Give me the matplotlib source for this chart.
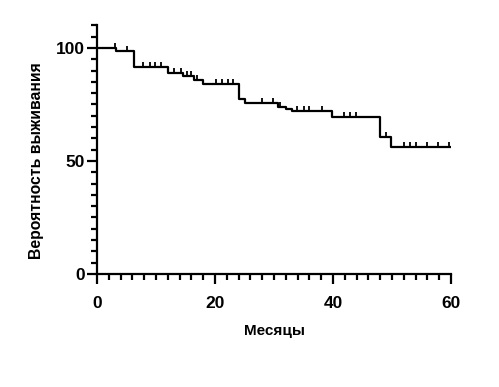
import numpy as np
import matplotlib
matplotlib.use('Agg')
import matplotlib.pyplot as plt
from matplotlib.ticker import MultipleLocator

# Kaplan-Meier steps (months, % survival)
step_times = [0, 3.2, 6.2, 12.0, 14.5, 16.5, 18.0, 24.0, 25.0, 30.7, 32.0, 33.0, 39.8, 48.0, 49.8, 59.8]
step_surv  = [100, 98.8, 91.7, 89.0, 87.5, 86.0, 84.0, 77.5, 75.5, 74.0, 73.0, 72.0, 69.5, 60.5, 56.0, 56.0]

# censored observations (months)
censor_times = [3.0, 5.1, 7.8, 8.9, 9.8, 10.8, 13.1, 14.2, 15.2, 16.0, 16.9,
                20.2, 21.2, 22.2, 23.1, 27.9, 29.9, 31.0, 33.9, 35.0, 36.0, 38.1,
                41.9, 42.9, 43.9, 49.0, 52.0, 53.1, 54.1, 55.9, 57.8, 59.7]

x_label = 'Месяцы'
y_label = 'Вероятность выживания'

plt.rcParams['font.family'] = ['Liberation Sans', 'DejaVu Sans']
plt.rcParams['font.weight'] = 'bold'

fig = plt.figure(figsize=(4.99, 3.87), dpi=100)
ax = fig.add_axes([0.1944, 0.292, 0.7094, 0.6424])

ax.step(step_times, step_surv, where='post', color='black', linewidth=1.6)

# survival level at each censor time (look up the step it sits on)
idx = np.searchsorted(step_times, censor_times, side='right') - 1
censor_surv = np.array(step_surv)[idx]
ax.plot(censor_times, censor_surv, linestyle='none', marker=2,
        markersize=3.5, markeredgewidth=1.3, color='black')

ax.set_xlim(0, 60)
ax.set_ylim(0, 110)
ax.xaxis.set_major_locator(MultipleLocator(20))
ax.xaxis.set_minor_locator(MultipleLocator(2))
ax.yaxis.set_major_locator(MultipleLocator(50))
ax.yaxis.set_minor_locator(MultipleLocator(5))

for side in ['top', 'right']:
  ax.spines[side].set_visible(False)
for side in ['left', 'bottom']:
  ax.spines[side].set_linewidth(1.6)

ax.tick_params(axis='both', which='major', length=7.5, width=1.6, labelsize=12.5)
ax.tick_params(axis='both', which='minor', length=4, width=1.6)
ax.tick_params(axis='x', which='major', pad=8)
ax.tick_params(axis='y', which='major', pad=1.5)
for lab in ax.get_xticklabels() + ax.get_yticklabels():
  lab.set_fontweight('bold')

ax.set_xlabel(x_label, fontsize=11, fontweight='bold', labelpad=10)
ax.set_ylabel(y_label, fontsize=11.3, fontweight='bold')
# y label centred on the 0-100 data range, like the original
ax.yaxis.set_label_coords(-0.150, 50 / 110)

fig.savefig('out.png', dpi=100)
